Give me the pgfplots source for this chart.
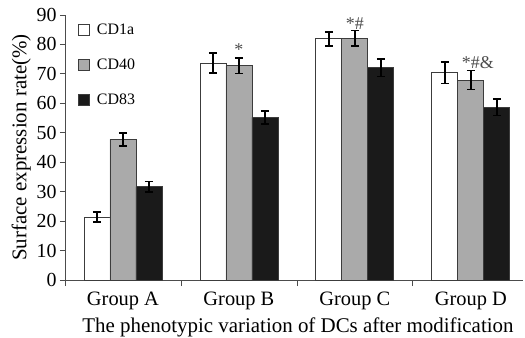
\documentclass[border=0pt]{standalone}
\usepackage{fontspec}
\setmainfont{Liberation Serif}
\usepackage{pgfplots}
\pgfplotsset{compat=1.18}
\definecolor{cgray}{RGB}{170,170,170}
\definecolor{cdark}{RGB}{26,26,26}
\definecolor{cedge}{RGB}{60,60,60}
\begin{document}
\begin{tikzpicture}
\begin{axis}[
  at={(0,0)}, anchor=south west,
  scale only axis, width=458bp, height=265bp,
  xmin=-0.5, xmax=3.45, ymin=0, ymax=90,
  axis x line*=bottom, axis y line*=left,
  axis line style={draw=black!70, line width=0.8pt, -},
  ybar=0pt, bar width=26bp,
  xtick={0,1,2,3},
  xticklabels={Group A,Group B,Group C,Group D},
  major x tick style={draw=none},
  minor xtick={-0.5,0.5,1.5,2.5},
  minor x tick style={draw=black!70, line width=0.8pt},
  minor tick length=6bp,
  ytick={0,10,...,90},
  y tick style={draw=black!70, line width=0.8pt},
  major tick length=5bp,
  tick align=outside,
  yticklabel style={font=\fontsize{20}{22}\selectfont},
  xticklabel style={font=\fontsize{20.5}{22}\selectfont, yshift=-3bp},
  /pgf/number format/assume math mode=true,
  xlabel={The phenotypic variation of DCs after modification},
  ylabel={Surface expression rate(\%)},
  xlabel style={font=\fontsize{21}{23}\selectfont, yshift=-2bp, xshift=4bp},
  ylabel style={font=\fontsize{21}{23}\selectfont, yshift=-1bp},
  legend style={draw=none, fill=none, at={(13bp,258bp)}, anchor=north west,
    font=\fontsize{16}{18}\selectfont, row sep=19bp, inner sep=0pt,
    cells={anchor=west}, nodes={inner xsep=7bp}},
  legend cell align=left,
  legend image code/.code={\draw[#1, line width=0.8pt, fill] (0bp,-5.5bp) rectangle (11bp,5.5bp);},
  error bars/y dir=both, error bars/y explicit,
  error bars/error bar style={line width=1.6pt, black},
  error bars/error mark options={rotate=90, mark size=4bp, line width=1.6pt, black},
  clip=false,
]
\addplot[draw=cedge, fill=white, line width=0.8pt] coordinates {
  (0,21.3) +- (0,1.7)
  (1,73.7) +- (0,3.3)
  (2,81.9) +- (0,2.4)
  (3,70.4) +- (0,3.6)
};
\addplot[draw=cedge, fill=cgray, line width=0.8pt] coordinates {
  (0,47.8) +- (0,2.2)
  (1,72.8) +- (0,2.6)
  (2,82.1) +- (0,2.7)
  (3,67.9) +- (0,3.2)
};
\addplot[draw=cedge, fill=cdark, line width=0.8pt] coordinates {
  (0,31.7) +- (0,1.8)
  (1,55.2) +- (0,2.2)
  (2,72.1) +- (0,3.0)
  (3,58.6) +- (0,2.8)
};
\legend{CD1a,CD40,CD83}
\node[font=\fontsize{18}{20}\selectfont, text=black!70] at (axis cs:1,78.2) {*};
\node[font=\fontsize{18}{20}\selectfont, text=black!70] at (axis cs:2,86.9) {*\#};
\node[font=\fontsize{18}{20}\selectfont, text=black!70] at (axis cs:3.06,73.7) {*\#\&};
\end{axis}
\pgfresetboundingbox
\path (-65bp,-58bp) rectangle (460bp,280bp);
\end{tikzpicture}
\end{document}
